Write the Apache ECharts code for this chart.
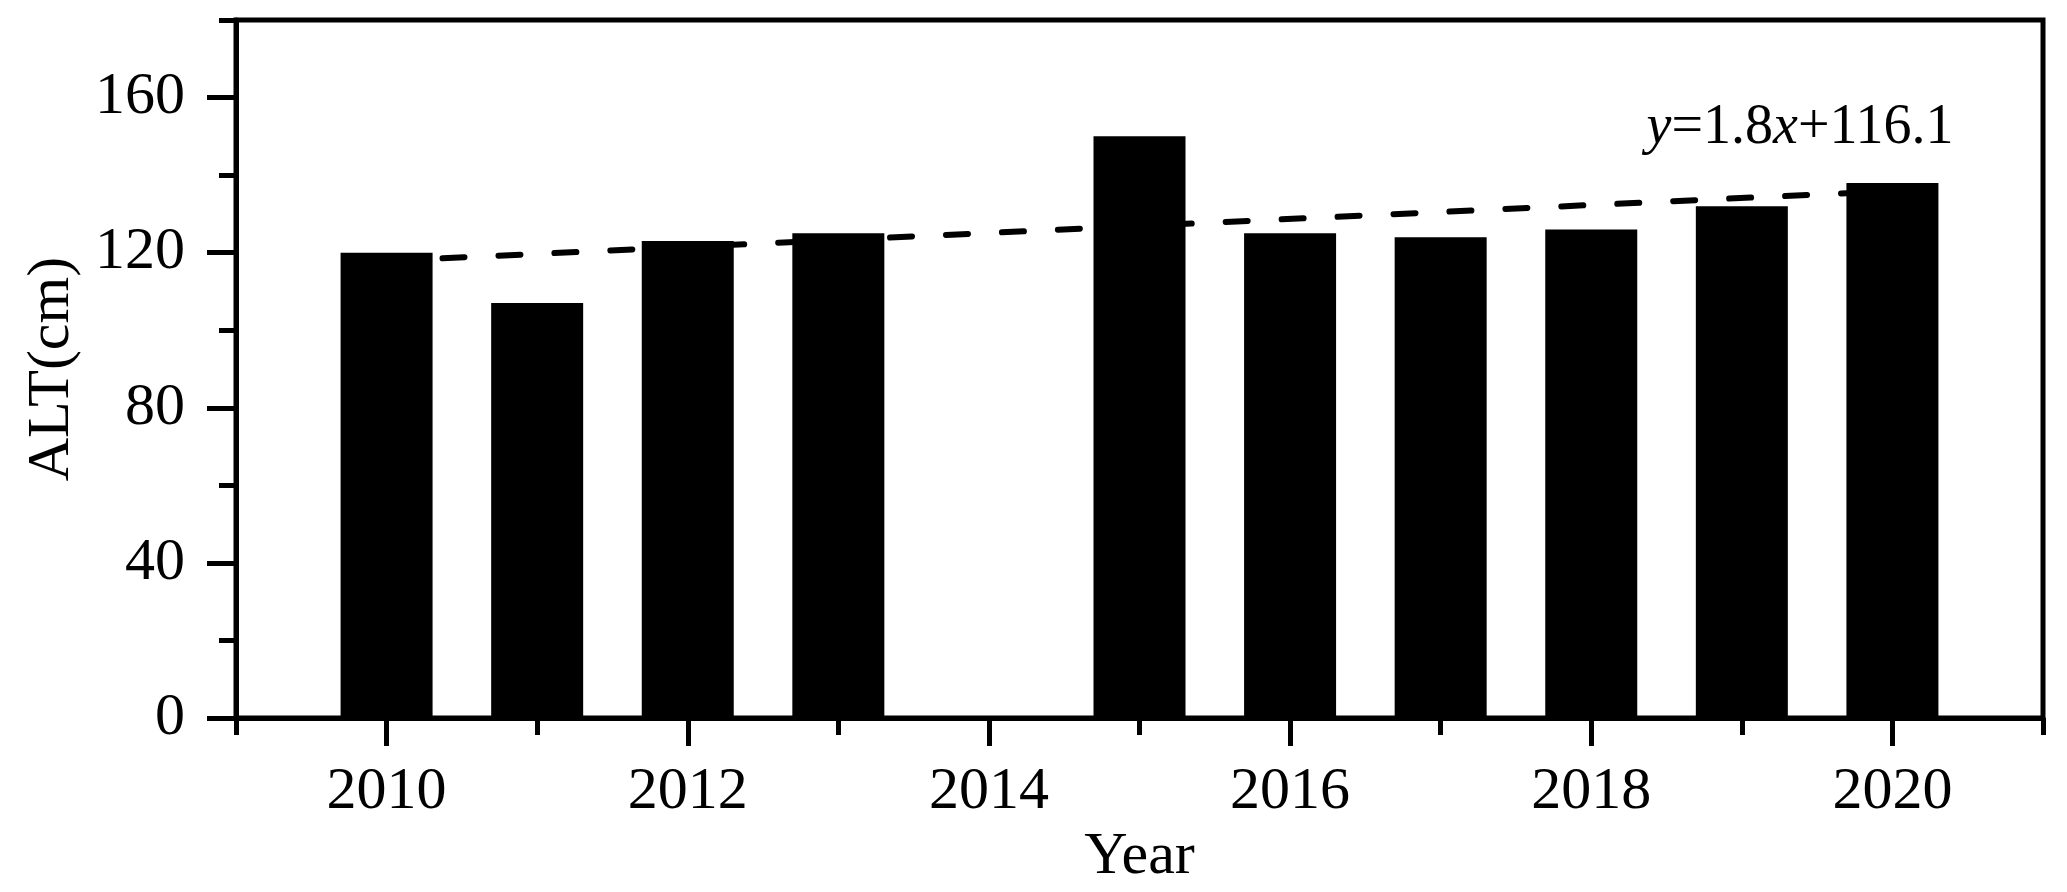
<!DOCTYPE html>
<html>
<head>
<meta charset="utf-8">
<script src="https://cdn.jsdelivr.net/npm/echarts@6/dist/echarts.min.js"></script>
<style>
  html, body { margin: 0; padding: 0; background: #fff; }
  #chart { width: 2067px; height: 892px; }
</style>
</head>
<body>
<div id="chart"></div>
<script>
// ---- data ----
const years = [2010, 2011, 2012, 2013, 2015, 2016, 2017, 2018, 2019, 2020];
const altValues = [120, 107, 123, 125, 150, 125, 124, 126, 132, 138];
const trendYears = [2010, 2020];
const trendValues = [117.9, 135.9];
const xMajorTicks = [2010, 2012, 2014, 2016, 2018, 2020];
const yMajorTicks = [0, 40, 80, 120, 160];
const equationText = '{i|y}{n|=1.8}{i|x}{n|+116.1}';
const xName = 'Year';
const yName = 'ALT(cm)';

const FONT = "'Liberation Serif', 'Times New Roman', serif";
const chart = echarts.init(document.getElementById('chart'), null, { renderer: 'canvas' });

const barData = years.map((y, i) => [y, altValues[i]]);
const trendData = trendYears.map((y, i) => [y, trendValues[i]]);

chart.setOption({
  backgroundColor: '#fff',
  animation: false,
  grid: {
    left: 236, right: 24, top: 20, bottom: 172,
    show: true, borderColor: '#000', borderWidth: 5, backgroundColor: 'transparent'
  },
  xAxis: [
    {
      type: 'value', min: 2009, max: 2021, interval: 1, position: 'bottom',
      axisLine: { show: true, lineStyle: { color: '#000', width: 5 } },
      axisTick: { show: true, length: 17, lineStyle: { color: '#000', width: 5 } },
      axisLabel: { show: false },
      splitLine: { show: false }
    },
    {
      type: 'value', min: 2009, max: 2021, interval: 1, position: 'bottom',
      axisLine: { show: false },
      axisTick: { show: true, length: 28, customValues: xMajorTicks, lineStyle: { color: '#000', width: 5 } },
      axisLabel: {
        show: true, customValues: xMajorTicks, margin: 44,
        fontSize: 60, fontFamily: FONT, color: '#000',
        formatter: v => String(v)
      },
      splitLine: { show: false },
      name: xName, nameLocation: 'middle', nameGap: 94,
      nameTextStyle: { fontSize: 60, fontFamily: FONT, color: '#000' }
    }
  ],
  yAxis: [
    {
      type: 'value', min: 0, max: 180, interval: 20, position: 'left',
      axisLine: { show: true, lineStyle: { color: '#000', width: 5 } },
      axisTick: { show: true, length: 17, lineStyle: { color: '#000', width: 5 } },
      axisLabel: { show: false },
      splitLine: { show: false }
    },
    {
      type: 'value', min: 0, max: 180, interval: 20, position: 'left',
      axisLine: { show: false },
      axisTick: { show: true, length: 29, customValues: yMajorTicks, lineStyle: { color: '#000', width: 5 } },
      axisLabel: {
        show: true, customValues: yMajorTicks, margin: 51,
        fontSize: 60, fontFamily: FONT, color: '#000'
      },
      splitLine: { show: false },
      name: yName, nameLocation: 'middle', nameGap: 154, nameRotate: 90,
      nameTextStyle: { fontSize: 60, fontFamily: FONT, color: '#000' }
    }
  ],
  series: [
    {
      type: 'line', xAxisIndex: 0, yAxisIndex: 0, z: 1,
      data: trendData, symbol: 'none', silent: true,
      lineStyle: { color: '#000', width: 6, type: [22, 34], cap: 'round' }
    },
    {
      type: 'bar', xAxisIndex: 0, yAxisIndex: 0, z: 3,
      data: barData, barWidth: 92,
      itemStyle: { color: '#000' }
    }
  ],
  graphic: [
    {
      type: 'text', x: 1800, y: 128, z: 10,
      style: {
        text: equationText, align: 'center', verticalAlign: 'middle', fill: '#000',
        rich: {
          i: { fontSize: 56, fontFamily: FONT, fontStyle: 'italic', fill: '#000' },
          n: { fontSize: 56, fontFamily: FONT, fill: '#000' }
        }
      }
    }
  ]
});
</script>
</body>
</html>
